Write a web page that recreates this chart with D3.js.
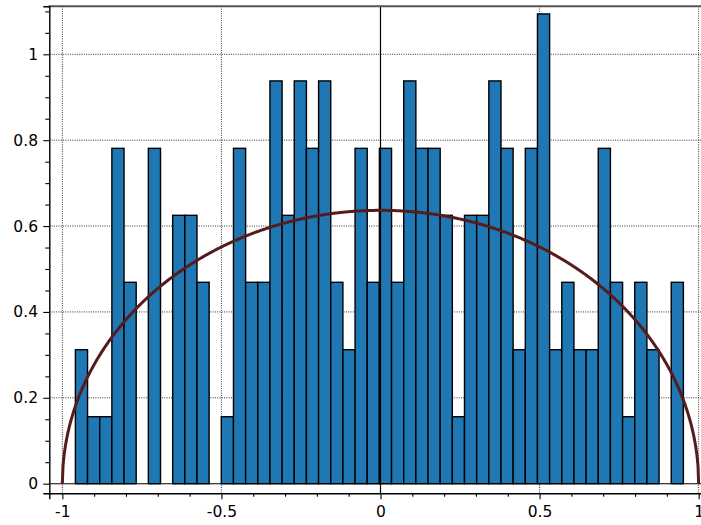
<!DOCTYPE html>
<html>
<head>
<meta charset="utf-8">
<script src="https://cdn.jsdelivr.net/npm/d3@7"></script>
<style>
  html, body { margin: 0; padding: 0; background: #fff; }
  svg { display: block; }
</style>
</head>
<body>
<svg id="chart" width="701" height="525"></svg>
<script>
// ---- data ----
const binStart = -0.959;   // left edge of first bin
const binEnd = 0.952;      // right edge of last bin
const densities = [
  0.312, 0.156, 0.156, 0.781, 0.469, 0.000, 0.781, 0.000, 0.625, 0.625,
  0.469, 0.000, 0.156, 0.781, 0.469, 0.469, 0.938, 0.625, 0.938, 0.781,
  0.938, 0.469, 0.312, 0.781, 0.469, 0.781, 0.469, 0.938, 0.781, 0.781,
  0.625, 0.156, 0.625, 0.625, 0.938, 0.781, 0.312, 0.781, 1.094, 0.312,
  0.469, 0.312, 0.312, 0.781, 0.469, 0.156, 0.469, 0.312, 0.000, 0.469
];
const xMajorTicks = [-1, -0.5, 0, 0.5, 1];
const xTickLabels = ["-1", "-0.5", "0", "0.5", "1"];
const yMajorTicks = [0, 0.2, 0.4, 0.6, 0.8, 1];
const yTickLabels = ["0", "0.2", "0.4", "0.6", "0.8", "1"];
const xMinorTicks = [-0.9, -0.8, -0.7, -0.6, -0.4, -0.3, -0.2, -0.1, 0.1, 0.2, 0.3, 0.4, 0.6, 0.7, 0.8, 0.9];
const yMinorTicks = [0.05, 0.1, 0.15, 0.25, 0.3, 0.35, 0.45, 0.5, 0.55, 0.65, 0.7, 0.75, 0.85, 0.9, 0.95, 1.05, 1.1];
// Wigner semicircle density  y = (2/pi) sqrt(1 - x^2)
const semicircle = x => (2 / Math.PI) * Math.sqrt(Math.max(0, 1 - x * x));

// ---- layout ----
const svg = d3.select("#chart");
const frame = { left: 49.3, right: 711.7, top: 6.3, bottom: 493.3 };
const x = d3.scaleLinear().domain([-1.041, 1.041]).range([frame.left, frame.right]);
const y = d3.scaleLinear().domain([-0.0224, 1.1118]).range([frame.bottom, frame.top]);
const font = "'DejaVu Sans', sans-serif";

// grid
const grid = svg.append("g");
grid.selectAll("line.hg").data(yMajorTicks.filter(v => v !== 0)).join("line")
  .attr("class", "hg")
  .attr("x1", frame.left).attr("x2", frame.right)
  .attr("y1", d => y(d)).attr("y2", d => y(d))
  .attr("stroke", "#333").attr("stroke-width", 1).attr("stroke-dasharray", "1,1.3");
grid.selectAll("line.vg").data(xMajorTicks.filter(v => v !== 0)).join("line")
  .attr("class", "vg")
  .attr("y1", frame.top).attr("y2", frame.bottom)
  .attr("x1", d => x(d)).attr("x2", d => x(d))
  .attr("stroke", "#333").attr("stroke-width", 1).attr("stroke-dasharray", "1,1.3");

// bars
const binW = (binEnd - binStart) / densities.length;
const binData = densities.map((d, i) => ({ x0: binStart + i * binW, x1: binStart + (i + 1) * binW, v: d }))
  .filter(b => b.v > 0);
svg.append("g").selectAll("rect").data(binData).join("rect")
  .attr("x", b => x(b.x0)).attr("width", b => x(b.x1) - x(b.x0))
  .attr("y", b => y(b.v)).attr("height", b => y(0) - y(b.v))
  .attr("fill", "#1f77b4").attr("stroke", "#000").attr("stroke-width", 1.4);

// axis lines through origin
svg.append("line").attr("x1", frame.left).attr("x2", frame.right)
  .attr("y1", y(0)).attr("y2", y(0)).attr("stroke", "#000").attr("stroke-width", 1.1);
svg.append("line").attr("x1", x(0)).attr("x2", x(0))
  .attr("y1", frame.top).attr("y2", frame.bottom).attr("stroke", "#000").attr("stroke-width", 1.2);

// semicircle curve
const curveXs = d3.range(-1, 1.00001, 0.002);
svg.append("path").datum(curveXs)
  .attr("fill", "none").attr("stroke", "#561c1c").attr("stroke-width", 3)
  .attr("d", d3.line().x(d => x(d)).y(d => y(semicircle(d))));

// top frame
svg.append("line").attr("x1", frame.left - 0.6).attr("x2", frame.right)
  .attr("y1", frame.top).attr("y2", frame.top).attr("stroke", "#555").attr("stroke-width", 2);

// axes
const yAxis = d3.axisLeft(y).tickValues(yMajorTicks).tickSize(6).tickPadding(5.3)
  .tickFormat((d, i) => yTickLabels[i]);
const gy = svg.append("g").attr("transform", `translate(${frame.left},0)`).call(yAxis);
const yMinor = d3.axisLeft(y).tickValues(yMinorTicks).tickSize(4).tickFormat("");
const gym = svg.append("g").attr("transform", `translate(${frame.left},0)`).call(yMinor);
gym.select(".domain").remove();

const xAxis = d3.axisBottom(x).tickValues(xMajorTicks).tickSize(6).tickPadding(6.4)
  .tickFormat((d, i) => xTickLabels[i]);
const gx = svg.append("g").attr("transform", `translate(0,${frame.bottom})`).call(xAxis);
const xMinor = d3.axisBottom(x).tickValues(xMinorTicks).tickSize(3.5).tickFormat("");
const gxm = svg.append("g").attr("transform", `translate(0,${frame.bottom})`).call(xMinor);
gxm.select(".domain").remove();

[gy, gx].forEach(g => {
  g.select(".domain").attr("stroke", "#000").attr("stroke-width", 1.4);
  g.selectAll(".tick text").attr("font-family", font).attr("font-size", "15.5px").attr("fill", "#000");
});
[gy, gym, gx, gxm].forEach(g => g.selectAll(".tick line").attr("stroke", "#000").attr("stroke-width", 1.1));
</script>
</body>
</html>
